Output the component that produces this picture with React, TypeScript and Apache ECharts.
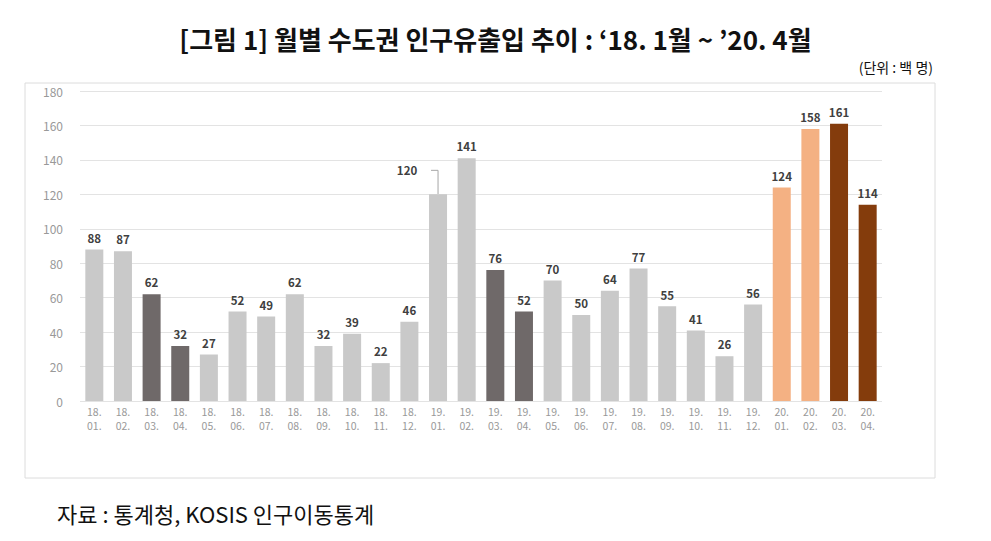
import React, { useEffect, useRef } from "react";
import * as echarts from "echarts";

const categories = [
  "18.\n01.", "18.\n02.", "18.\n03.", "18.\n04.", "18.\n05.", "18.\n06.", "18.\n07.", "18.\n08.", "18.\n09.", "18.\n10.", "18.\n11.", "18.\n12.",
  "19.\n01.", "19.\n02.", "19.\n03.", "19.\n04.", "19.\n05.", "19.\n06.", "19.\n07.", "19.\n08.", "19.\n09.", "19.\n10.", "19.\n11.", "19.\n12.",
  "20.\n01.", "20.\n02.", "20.\n03.", "20.\n04.",
];
const values = [88, 87, 62, 32, 27, 52, 49, 62, 32, 39, 22, 46, 120, 141, 76, 52, 70, 50, 64, 77, 55, 41, 26, 56, 124, 158, 161, 114];
// colour group per bar: 0 light gray, 1 dark gray, 2 light orange, 3 brown
const groups = [0, 0, 1, 1, 0, 0, 0, 0, 0, 0, 0, 0, 0, 0, 1, 1, 0, 0, 0, 0, 0, 0, 0, 0, 2, 2, 3, 3];
const palette = ["#c9c9c9", "#6f6969", "#f4b183", "#843c0c"];
const yTicks = { min: 0, max: 180, interval: 20 };
const titleText = "[그림 1] 월별 수도권 인구유출입 추이 : ‘18. 1월 ~ ’20. 4월";
const unitText = "(단위 : 백 명)";
const sourceText = "자료 : 통계청, KOSIS 인구이동통계";
const calloutIndex = 12;

export default function App() {
  const ref = useRef<HTMLDivElement>(null);
  useEffect(() => {
    if (!ref.current) return;
    const chart = echarts.init(ref.current, null, { renderer: "svg" });
    const font = "'Noto Sans CJK KR', 'Noto Sans', sans-serif";
    const option: any = {
      animation: false,
      backgroundColor: "#ffffff",
      textStyle: { fontFamily: font },
      grid: { left: 80, right: 109, top: 91, bottom: 140 },
      xAxis: {
        type: "category",
        data: categories,
        axisLine: { show: false },
        axisTick: { show: false },
        axisLabel: { color: "#999999", fontSize: 10.5, lineHeight: 14, margin: 3, interval: 0 },
      },
      yAxis: {
        type: "value",
        min: yTicks.min,
        max: yTicks.max,
        interval: yTicks.interval,
        axisLine: { show: false },
        axisTick: { show: false },
        axisLabel: { color: "#999999", fontSize: 12, margin: 17 },
        splitLine: { lineStyle: { color: "#e3e3e3", width: 1 } },
      },
      series: [
        {
          type: "bar",
          barWidth: 18,
          data: values.map((v, i) => ({
            value: v,
            itemStyle: { color: palette[groups[i]] },
            label: i === calloutIndex ? { offset: [-31, -13] } : undefined,
          })),
          label: {
            show: true,
            position: "top",
            distance: 6,
            color: "#404040",
            fontWeight: "bold",
            fontSize: 11.5,
          },
        },
      ],
      graphic: [
        {
          id: "frame",
          type: "rect",
          shape: { x: 25, y: 83, width: 910, height: 395 },
          style: { fill: "none", stroke: "#dcdcdc", lineWidth: 1 },
          silent: true,
        },
        {
          id: "title",
          type: "text",
          left: "center",
          top: 25,
          style: { text: titleText, font: `bold 26px ${font}`, fill: "#111111" },
        },
        {
          id: "unit",
          type: "text",
          right: 58,
          top: 60,
          style: { text: unitText, font: `14px ${font}`, fill: "#111111" },
        },
        {
          id: "source",
          type: "text",
          left: 57,
          top: 502,
          style: { text: sourceText, font: `22px ${font}`, fill: "#111111" },
        },
      ],
    };
    chart.setOption(option);
    const p = chart.convertToPixel({ seriesIndex: 0 }, [calloutIndex, values[calloutIndex]]) as number[];
    if (p) {
      chart.setOption({
        graphic: [
          {
            id: "leader",
            type: "polyline",
            shape: { points: [[p[0], p[1]], [p[0], p[1] - 24], [p[0] - 7, p[1] - 24]] },
            style: { stroke: "#a6a6a6", lineWidth: 1, fill: "none" },
            silent: true,
          },
        ],
      });
    }
    return () => chart.dispose();
  }, []);
  return <div ref={ref} style={{ position: "fixed", left: 0, top: 0, width: 991, height: 541 }} />;
}
